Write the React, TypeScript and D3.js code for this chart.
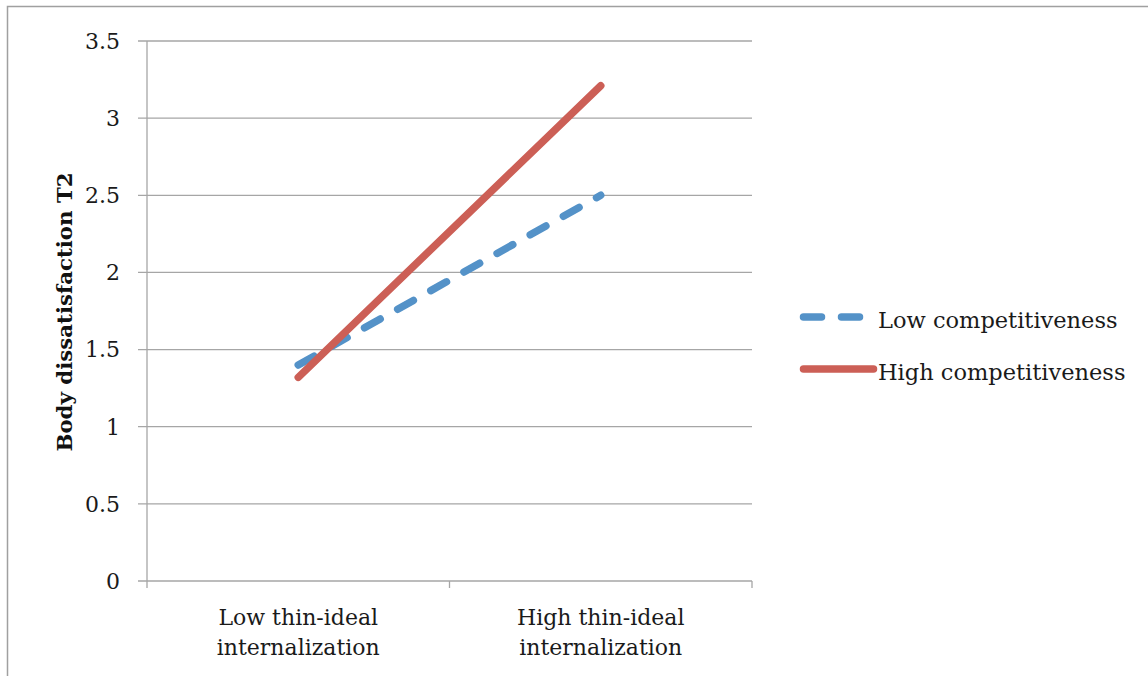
import React from "react";
import * as d3 from "d3";

// Interaction plot: body dissatisfaction at T2 by thin-ideal internalization
const categories: string[][] = [
  ["Low thin-ideal", "internalization"],
  ["High thin-ideal", "internalization"],
];
const lowCompetitiveness: number[] = [1.4, 2.5];
const highCompetitiveness: number[] = [1.32, 3.21];
const yTicks: number[] = [0, 0.5, 1, 1.5, 2, 2.5, 3, 3.5];
const seriesNames: string[] = ["Low competitiveness", "High competitiveness"];

const W = 1148;
const H = 676;
const plot = { left: 147, right: 752, top: 41, bottom: 581 };
const FONT = "'DejaVu Serif', serif";
const GRID = "#a6a6a6";
const BLUE = "#5492c8";
const RED = "#cc5f56";
const DASH = "18 20";
const LINE_W = 7.5;

export default function App() {
  const x = d3
    .scaleBand<number>()
    .domain(categories.map((_, i) => i))
    .range([plot.left, plot.right])
    .padding(0);
  const y = d3.scaleLinear().domain([0, 3.5]).range([plot.bottom, plot.top]);
  const cx = (i: number) => (x(i) as number) + x.bandwidth() / 2;

  const line = d3
    .line<number>()
    .x((_, i) => cx(i))
    .y((d) => y(d));

  const bandEdges = [0, 1, 2].map((i) =>
    i < 2 ? (x(i) as number) : (x(1) as number) + x.bandwidth()
  );

  return (
    <svg
      width={W}
      height={H}
      style={{ position: "absolute", left: 0, top: 0, background: "#fff" }}
    >
      {/* chart frame */}
      <rect x={7.5} y={6.5} width={W + 10} height={H + 10} fill="none" stroke="#a0a0a0" strokeWidth={1.5} />

      {/* horizontal gridlines and y ticks */}
      {yTicks.map((t) => (
        <g key={t}>
          <line x1={plot.left - 9} x2={plot.right} y1={y(t)} y2={y(t)} stroke={GRID} strokeWidth={1.3} />
          <text
            x={120}
            y={y(t)}
            dy="0.36em"
            textAnchor="end"
            fontFamily={FONT}
            fontSize={22}
            fill="#1a1a1a"
          >
            {t}
          </text>
        </g>
      ))}

      {/* y axis */}
      <line x1={plot.left} x2={plot.left} y1={plot.top} y2={plot.bottom} stroke={GRID} strokeWidth={1.3} />

      {/* x category ticks */}
      {bandEdges.map((bx, i) => (
        <line key={i} x1={bx} x2={bx} y1={plot.bottom} y2={plot.bottom + 7} stroke={GRID} strokeWidth={1.3} />
      ))}

      {/* category labels */}
      {categories.map((lines, i) => (
        <text key={i} x={cx(i)} y={625} textAnchor="middle" fontFamily={FONT} fontSize={22} fill="#1a1a1a">
          {lines.map((l, j) => (
            <tspan key={j} x={cx(i)} dy={j === 0 ? 0 : 30}>
              {l}
            </tspan>
          ))}
        </text>
      ))}

      {/* y axis title */}
      <text
        transform={`translate(72, 312) rotate(-90)`}
        textAnchor="middle"
        fontFamily={FONT}
        fontWeight="bold"
        fontSize={21.3}
        fill="#111"
      >
        Body dissatisfaction T2
      </text>

      {/* series */}
      <path
        d={line(lowCompetitiveness) || ""}
        fill="none"
        stroke={BLUE}
        strokeWidth={LINE_W}
        strokeDasharray={DASH}
        strokeLinecap="round"
      />
      <path
        d={line(highCompetitiveness) || ""}
        fill="none"
        stroke={RED}
        strokeWidth={LINE_W}
        strokeLinecap="round"
      />

      {/* legend */}
      {seriesNames.map((name, i) => {
        const ly = i === 0 ? 317 : 369;
        return (
          <g key={name}>
            <line
              x1={803.5}
              x2={873.5}
              y1={ly}
              y2={ly}
              stroke={i === 0 ? BLUE : RED}
              strokeWidth={LINE_W}
              strokeLinecap="round"
              strokeDasharray={i === 0 ? DASH : undefined}
            />
            <text x={878} y={ly + 11} fontFamily={FONT} fontSize={22.5} fill="#1a1a1a">
              {name}
            </text>
          </g>
        );
      })}
    </svg>
  );
}
